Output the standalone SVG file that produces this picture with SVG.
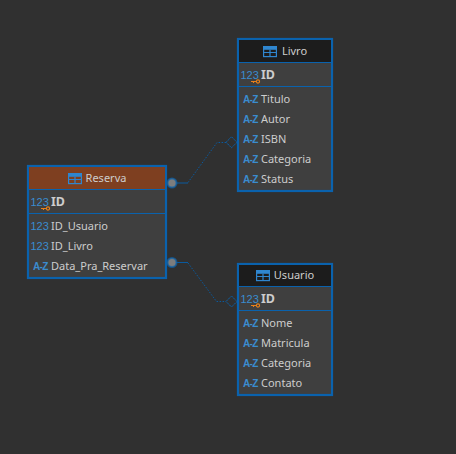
<svg xmlns="http://www.w3.org/2000/svg" width="456" height="454" viewBox="0 0 456 454">
<style>
.box{fill:#3f3f3f;stroke:#0a62ad;stroke-width:2.200}
.hd{stroke:none}
.sep{stroke:#0a62ad;stroke-width:1;fill:none}
text{font-family:"Noto Sans","Open Sans",sans-serif;fill:#cdcdcd}
.t{font-size:11px;text-anchor:middle}
.f{font-size:11px}
.pk{font-size:12.5px;font-weight:700}
.n{font-size:11px;fill:#3a8ccf;font-family:"Liberation Sans",sans-serif}
.a{font-size:10px;font-weight:700;letter-spacing:-.6px;fill:#3a8ccf;font-family:"Liberation Sans",sans-serif}
.ic{fill:none;stroke:#2f86cf;stroke-width:1.200}
.key{fill:none;stroke:#e8801a;stroke-width:1.100}
.ln{fill:none;stroke:#0a5a9e;stroke-width:1}
.dot{stroke-dasharray:1.500 1.500}
.dm{fill:#303030;stroke:#0a62ad;stroke-width:1;stroke-dasharray:1.800 .6}
.c{fill:#7d7d7d;stroke:#0a62ad;stroke-width:2;stroke-opacity:.7}
</style>
<defs>
<g id="tbl"><rect class="ic" x="0.6" y="0.6" width="12.8" height="10"/><path d="M0.600 1H13.400V3.800H0.600Z" fill="#2f86cf"/><path class="ic" d="M0.600 6.500H13.400M7 3.800V10.600"/></g>
<g id="key"><path class="key" d="M0 1.500H5.500M2.500 1.500V3"/><circle class="key" cx="7" cy="1.500" r="1.600"/></g>
</defs>
<rect width="456" height="454" fill="#303030"/>
<g id="connectors">
<path class="ln" d="M172 183H188"/><path class="ln dot" d="M188 182.500L217 142.500H226"/>
<path class="ln" d="M172 262.500H188"/><path class="ln dot" d="M188 263L216.500 301.500H226"/>
<path class="dm" d="M231.500 136.800L237 142.300L231.500 147.800L226 142.300Z"/>
<path class="dm" d="M231.500 296L237 301.500L231.500 307L226 301.500Z"/>
<circle class="c" cx="172" cy="183" r="4.500"/>
<circle class="c" cx="172" cy="262.500" r="4.500"/>
</g>
<g id="livro">
<rect class="box" x="238" y="39" width="94" height="152"/>
<rect class="hd" x="239" y="40" width="92" height="22" fill="#1c1c1c"/>
<path class="sep" d="M238 62.500H332M238 86.500H332"/>
<use href="#tbl" x="263" y="46"/>
<text class="t" x="294.500" y="55">Livro</text>
<text class="n" x="240.500" y="79">123</text><use href="#key" x="251" y="80"/>
<text class="pk" x="261" y="79">ID</text>
<text class="a" x="243" y="103">A-Z</text><text class="f" x="261" y="103">Titulo</text>
<text class="a" x="243" y="123">A-Z</text><text class="f" x="261" y="123">Autor</text>
<text class="a" x="243" y="143">A-Z</text><text class="f" x="261" y="143">ISBN</text>
<text class="a" x="243" y="163">A-Z</text><text class="f" x="261" y="163">Categoria</text>
<text class="a" x="243" y="183">A-Z</text><text class="f" x="261" y="183">Status</text>
</g>
<g id="reserva">
<rect class="box" x="28" y="166" width="138" height="112"/>
<rect class="hd" x="29" y="167" width="136" height="22" fill="#7e3f20"/>
<path class="sep" d="M28 189.500H166M28 213.500H166"/>
<use href="#tbl" x="68" y="173"/>
<text class="t" x="106" y="182">Reserva</text>
<text class="n" x="30.500" y="206">123</text><use href="#key" x="41" y="207"/>
<text class="pk" x="51" y="206">ID</text>
<text class="n" x="30.500" y="230">123</text><text class="f" x="51" y="230">ID_Usuario</text>
<text class="n" x="30.500" y="250">123</text><text class="f" x="51" y="250">ID_Livro</text>
<text class="a" x="33" y="270">A-Z</text><text class="f" x="51" y="270">Data_Pra_Reservar</text>
</g>
<g id="usuario">
<rect class="box" x="238" y="264" width="94" height="131"/>
<rect class="hd" x="239" y="265" width="92" height="21" fill="#1c1c1c"/>
<path class="sep" d="M238 286.500H332M238 310.500H332"/>
<use href="#tbl" x="256" y="270"/>
<text class="t" x="294" y="279">Usuario</text>
<text class="n" x="240.500" y="303">123</text><use href="#key" x="251" y="304"/>
<text class="pk" x="261" y="303">ID</text>
<text class="a" x="243" y="327">A-Z</text><text class="f" x="261" y="327">Nome</text>
<text class="a" x="243" y="347">A-Z</text><text class="f" x="261" y="347">Matricula</text>
<text class="a" x="243" y="367">A-Z</text><text class="f" x="261" y="367">Categoria</text>
<text class="a" x="243" y="387">A-Z</text><text class="f" x="261" y="387">Contato</text>
</g>
</svg>
